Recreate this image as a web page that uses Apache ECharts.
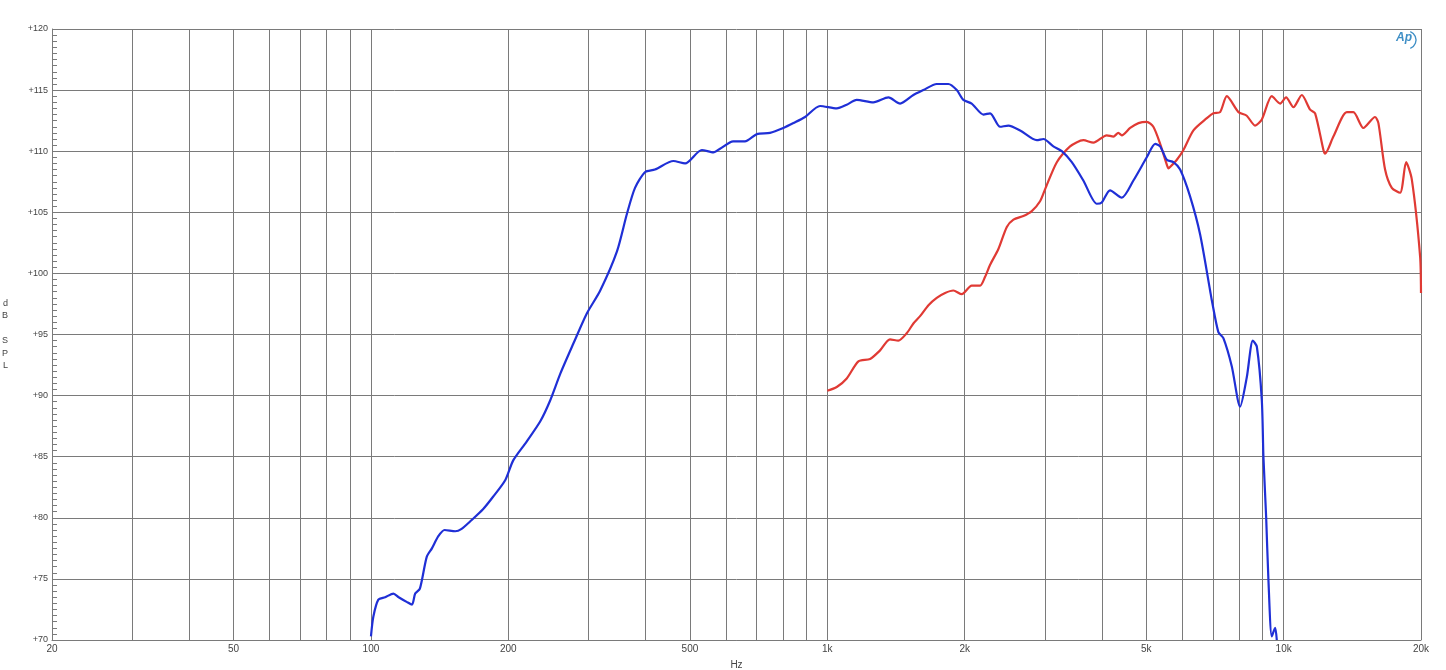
<!DOCTYPE html>
<html>
<head>
<meta charset="utf-8">
<script src="https://cdn.jsdelivr.net/npm/echarts@6/dist/echarts.min.js"></script>
<style>
html,body{margin:0;padding:0;background:#fff;}
#chart{width:1446px;height:670px;}
</style>
</head>
<body>
<div id="chart"></div>
<script>
// ---- data ----
const xLabelValues = [20, 50, 100, 200, 500, 1000, 2000, 5000, 10000, 20000];
const xGridValues = [20, 30, 40, 50, 60, 70, 80, 90, 100, 200, 300, 400, 500, 600, 700, 800, 900,
  1000, 2000, 3000, 4000, 5000, 6000, 7000, 8000, 9000, 10000, 20000];
const yMin = 70, yMax = 120, yStep = 5;

const blueFreq = [100, 101.2, 103.8, 107.4, 112, 115, 120, 123, 125, 128, 132.5, 136, 140.5, 145, 153, 158, 166, 176, 185, 197,
  205, 219, 235, 247, 260, 278, 297, 318, 346, 364, 379, 399, 419, 460, 488, 531, 563, 582, 622, 660,
  701, 749, 801, 843, 894, 964, 1049, 1103, 1160, 1262, 1361, 1444, 1544, 1624, 1737, 1842, 1922, 1987, 2072, 2198,
  2274, 2391, 2494, 2646, 2878, 2976, 3129, 3265, 3434, 3640, 3895, 3994, 4164, 4420, 4686, 5013, 5230, 5363, 5546, 5734,
  5932, 6237, 6560, 6900, 6960, 7194, 7379, 7697, 8028, 8304, 8560, 8736, 8958, 9031, 9155, 9262, 9421, 9581, 9661];
const blueDb = [70.3, 71.9, 73.3, 73.5, 73.8, 73.5, 73.1, 72.9, 73.8, 74.2, 76.8, 77.5, 78.5, 79.0, 78.9, 79.1, 79.8, 80.7, 81.7, 83.1,
  84.7, 86.2, 87.9, 89.6, 91.8, 94.3, 96.7, 98.6, 101.8, 104.9, 107.0, 108.3, 108.5, 109.2, 109.0, 110.1, 109.9, 110.2, 110.8, 110.8,
  111.4, 111.5, 111.9, 112.3, 112.8, 113.7, 113.5, 113.8, 114.2, 114.0, 114.4, 113.9, 114.6, 115.0, 115.5, 115.5, 115.0, 114.2, 113.9, 113.0,
  113.1, 112.0, 112.1, 111.7, 110.9, 111.0, 110.4, 110.0, 109.1, 107.6, 105.7, 105.8, 106.8, 106.2, 107.6, 109.5, 110.6, 110.4, 109.3, 109.1,
  108.5, 106.3, 103.2, 98.6, 97.8, 95.2, 94.7, 92.4, 89.1, 91.5, 94.5, 94.0, 89.6, 85.0, 80.1, 74.9, 70.3, 71.0, 70.0];

const redFreq = [1000, 1049, 1103, 1170, 1241, 1305, 1372, 1431, 1493, 1544, 1597, 1666, 1737, 1812, 1889, 1971, 2072, 2162, 2216, 2274,
  2371, 2474, 2558, 2690, 2806, 2926, 3002, 3184, 3404, 3640, 3830, 4096, 4236, 4344, 4420, 4610, 4808, 5013, 5182, 5363,
  5546, 5593, 5638, 5835, 6032, 6344, 6788, 7016, 7258, 7508, 7961, 8302, 8657, 8958, 9421, 9824, 10126, 10506, 10962, 11430,
  11722, 12224, 12329, 12853, 13756, 14218, 14956, 15864, 16132, 16685, 17260, 18000, 18554, 19093, 19910, 20000];
const redDb = [90.4, 90.7, 91.4, 92.8, 93.0, 93.7, 94.6, 94.5, 95.1, 95.9, 96.5, 97.4, 98.0, 98.4, 98.6, 98.3, 99.0, 99.0, 99.7, 100.7,
  102.0, 103.8, 104.4, 104.7, 105.1, 105.9, 106.9, 109.1, 110.4, 110.9, 110.7, 111.3, 111.2, 111.5, 111.3, 111.9, 112.3, 112.4, 112.0, 110.6,
  108.9, 108.6, 108.7, 109.3, 110.1, 111.7, 112.7, 113.1, 113.2, 114.5, 113.2, 112.9, 112.1, 112.6, 114.5, 113.9, 114.4, 113.6, 114.6, 113.4,
  113.1, 110.1, 109.8, 111.2, 113.2, 113.2, 111.9, 112.8, 112.3, 108.5, 107.0, 106.6, 109.1, 107.7, 101.4, 98.4];

const xAxisName = 'Hz';
const yAxisName = 'd\nB\n\nS\nP\nL';

function pairs(xs, ys) { return xs.map((x, i) => [x, ys[i]]); }

const chart = echarts.init(document.getElementById('chart'), null, {renderer: 'canvas'});
const gridColor = '#7a7a7a';
const font = 'Liberation Sans, Arial, sans-serif';

chart.setOption({
  backgroundColor: '#ffffff',
  animation: false,
  grid: {left: 52, right: 25, top: 29, bottom: 30, containLabel: false, outerBoundsMode: 'none'},
  xAxis: {
    type: 'log',
    logBase: 10,
    min: 20,
    max: 20000,
    name: xAxisName,
    nameLocation: 'middle',
    nameGap: 20,
    nameTextStyle: {fontSize: 10, color: '#444', fontFamily: font},
    axisLine: {show: true, lineStyle: {color: gridColor, width: 1}},
    axisTick: {show: false, customValues: xGridValues},
    minorTick: {show: false},
    splitLine: {show: true, lineStyle: {color: gridColor, width: 1}},
    axisLabel: {
      customValues: xLabelValues,
      fontSize: 10, color: '#444', fontFamily: font, margin: 4,
      formatter: v => v >= 1000 ? (v / 1000) + 'k' : String(v)
    }
  },
  yAxis: {
    type: 'value',
    min: yMin,
    max: yMax,
    interval: yStep,
    name: yAxisName,
    nameLocation: 'middle',
    nameRotate: 0,
    nameGap: 44,
    nameTextStyle: {fontSize: 9, color: '#444', fontFamily: font, lineHeight: 12.5},
    axisLine: {show: true, lineStyle: {color: gridColor, width: 1}},
    axisTick: {show: true, inside: true, length: 5, lineStyle: {color: gridColor}},
    minorTick: {show: true, splitNumber: 10, length: 5, lineStyle: {color: gridColor}},
    splitLine: {show: true, lineStyle: {color: gridColor, width: 1}},
    axisLabel: {
      fontSize: 9, color: '#444', fontFamily: font, margin: 4,
      formatter: v => '+' + v
    }
  },
  graphic: [
    {type: 'text', left: 1396, top: 32, style: {text: 'Ap', fontSize: 12, fontStyle: 'italic', fontWeight: 'bold', fill: '#3f8fc6', fontFamily: font}},
    {type: 'arc', shape: {cx: 1407, cy: 40, r: 9, startAngle: -1.2, endAngle: 1.2}, style: {stroke: '#3f8fc6', lineWidth: 1.3, fill: null}}
  ],
  series: [
    {
      name: 'blue', type: 'line', data: pairs(blueFreq, blueDb), showSymbol: false, symbol: 'none',
      smooth: 0.25, lineStyle: {color: '#1f2fd6', width: 2.2}, clip: true, z: 3
    },
    {
      name: 'red', type: 'line', data: pairs(redFreq, redDb), showSymbol: false, symbol: 'none',
      smooth: 0.25, lineStyle: {color: '#e03a34', width: 2.2}, clip: true, z: 2
    }
  ]
});
</script>
</body>
</html>
